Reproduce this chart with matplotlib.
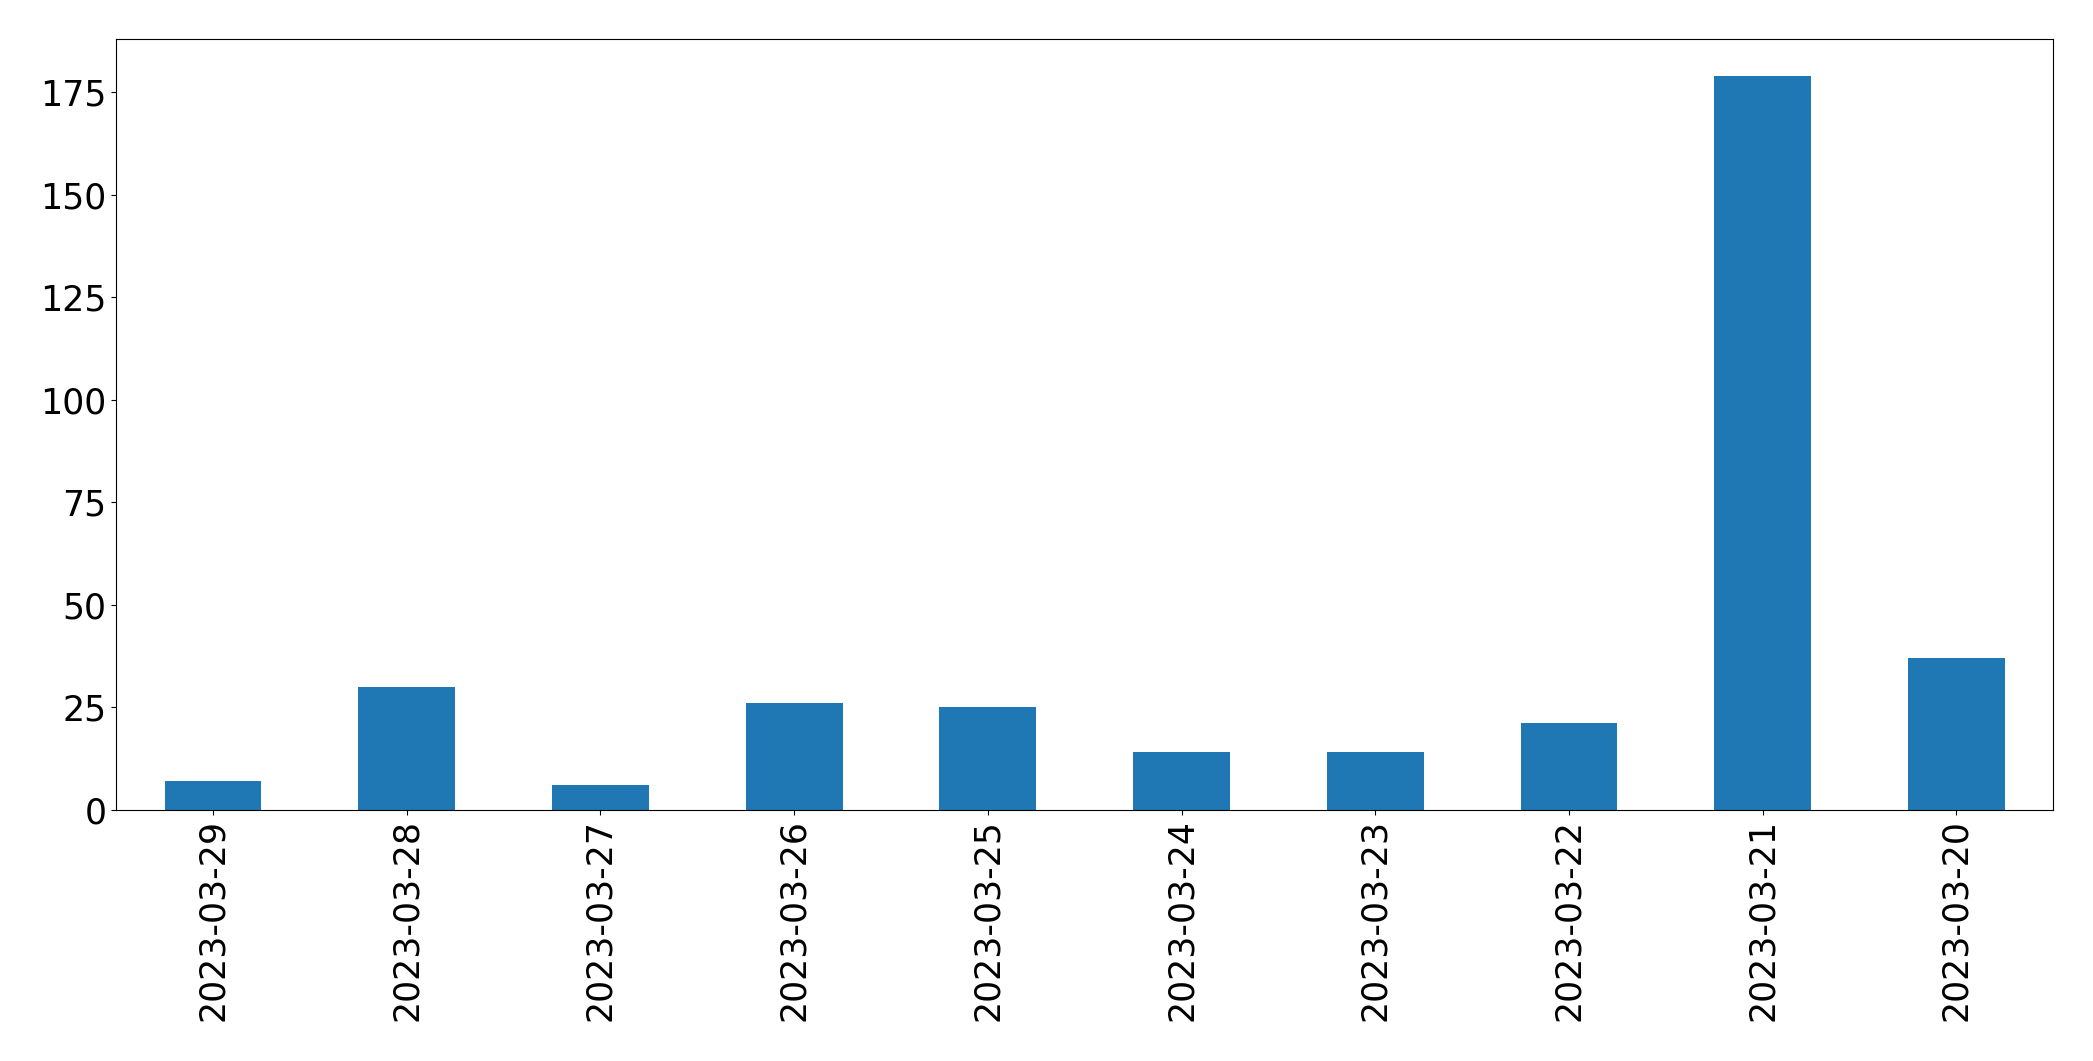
import matplotlib
matplotlib.use("Agg")
import matplotlib.pyplot as plt
import pandas as pd

# daily counts, newest first
dates = ["2023-03-29", "2023-03-28", "2023-03-27", "2023-03-26", "2023-03-25",
         "2023-03-24", "2023-03-23", "2023-03-22", "2023-03-21", "2023-03-20"]
counts = [7, 30, 6, 26, 25, 14, 14, 21, 179, 37]

s = pd.Series(counts, index=dates)

fig, ax = plt.subplots(figsize=(20.93, 10.61), dpi=100)
s.plot(kind="bar", ax=ax, color="#1f77b4")
ax.tick_params(axis="both", labelsize=25)
plt.subplots_adjust(left=0.0555, right=0.981, top=0.963, bottom=0.237)

plt.savefig("out.png", dpi=100)
